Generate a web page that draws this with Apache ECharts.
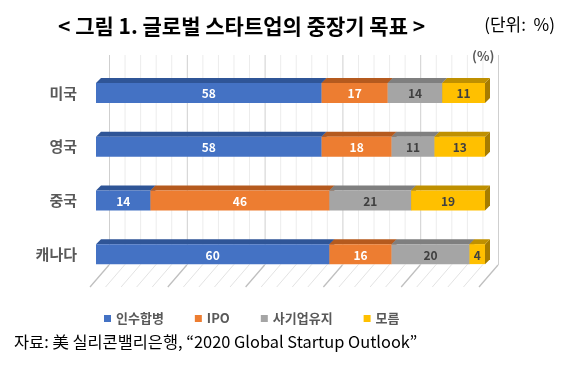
<!DOCTYPE html>
<html><head><meta charset="utf-8">
<script src="https://cdn.jsdelivr.net/npm/echarts@6/dist/echarts.min.js"></script>
<style>html,body{margin:0;padding:0;background:#fff}#c{width:582px;height:372px}</style>
</head><body><div id="c"></div>
<script>
const categories = ['미국', '영국', '중국', '캐나다'];
const seriesNames = ['인수합병', 'IPO', '사기업유지', '모름'];
const mna = [58, 58, 14, 60];
const ipo = [17, 18, 46, 16];
const privateKeep = [14, 11, 21, 20];
const unknown = [11, 13, 19, 4];
const wallTicks = [0,4,8,12,16,20,24,28,32,36,40,44,48,52,56,60,64,68,72,76,80,84,88,92,96,100];

const valueSets = [mna, ipo, privateKeep, unknown];
const fronts = ['#4472C4', '#ED7D31', '#A5A5A5', '#FFC000'];
const tops = ['#2F5597', '#B55A1E', '#7F7F7F', '#BF9000'];
const sides = ['#2F5597', '#A14F1A', '#747474', '#A67C00'];
const labelColors = ['#FFFFFF', '#FFFFFF', '#404040', '#404040'];
const KR = '"Noto Sans CJK KR", "Noto Sans", sans-serif';

const cum = categories.map(() => 0);
const barSeries = valueSets.map((vals, si) => {
  const data = vals.map((v, ci) => {
    const s = cum[ci]; cum[ci] += v;
    return [s, s + v, ci, v];
  });
  return {
    type: 'custom', name: seriesNames[si],
    itemStyle: { color: fronts[si] },
    encode: { x: [0, 1], y: 2 },
    data: data, z: 10,
    renderItem: function (params, api) {
      const s = api.value(0), e = api.value(1), c = api.value(2), v = api.value(3);
      const p0 = api.coord([s, c]), p1 = api.coord([e, c]);
      const h = 20, d = 5;
      const x0 = p0[0], x1 = p1[0], yc = p0[1];
      const yt = yc - h / 2, yb = yc + h / 2;
      return { type: 'group', children: [
        { type: 'polygon', shape: { points: [[x1, yt], [x1 + d, yt - d], [x1 + d, yb - d], [x1, yb]] }, style: { fill: sides[si] } },
        { type: 'polygon', shape: { points: [[x0, yt], [x0 + d, yt - d], [x1 + d, yt - d], [x1, yt]] }, style: { fill: tops[si] } },
        { type: 'rect', shape: { x: x0, y: yt, width: x1 - x0, height: h }, style: { fill: fronts[si] } },
        { type: 'text', style: { text: String(v), x: (x0 + x1) / 2, y: yc + 1, align: 'center', verticalAlign: 'middle', fill: labelColors[si], font: 'bold 12px ' + KR } }
      ]};
    }
  };
});

// back wall + floor grid, positioned from the value axis of the bar grid
const wallSeries = {
  type: 'custom', silent: true, z: 1,
  encode: { x: 0, y: 1 },
  data: wallTicks.map(t => [t, 0]),
  renderItem: function (params, api) {
    const t = api.value(0);
    const cs = params.coordSys;
    const x = api.coord([t, 0])[0];
    const dx = 13, fdx = 6;
    const wallTop = cs.y - 11, wallBottom = cs.y + cs.height - 16, floorFront = cs.y + cs.height + 6;
    const major = (t % 20 === 0);
    return { type: 'group', children: [
      { type: 'line', shape: { x1: x + dx + 0.5, y1: wallTop, x2: x + dx + 0.5, y2: wallBottom },
        style: { stroke: major ? '#CFCFCF' : '#ECECEC', lineWidth: 1 } },
      { type: 'line', shape: { x1: x + dx, y1: wallBottom, x2: x - fdx, y2: floorFront },
        style: { stroke: major ? '#BFBFBF' : '#E3E3E3', lineWidth: major ? 1.3 : 1 } }
    ]};
  }
};

const chart = echarts.init(document.getElementById('c'), null, { renderer: 'canvas' });
chart.setOption({
  backgroundColor: '#ffffff',
  animation: false,
  title: [
    { text: '< 그림 1. 글로벌 스타트업의 중장기 목표 >', left: 58, top: 16, padding: 0, textStyle: { fontFamily: KR, fontWeight: 'bold', fontSize: 21, color: '#000' } },
    { text: '(단위:  %)', right: 27, top: 16, padding: 0, textStyle: { fontFamily: KR, fontWeight: 'normal', fontSize: 17, color: '#000' } },
    { text: '(%)', left: 472, top: 50, padding: 0, textStyle: { fontFamily: KR, fontWeight: 'bold', fontSize: 13, color: '#595959' } },
    { text: '자료: 美 실리콘밸리은행, “2020 Global Startup Outlook”', left: 14, top: 334, padding: 0, textStyle: { fontFamily: KR, fontWeight: 'normal', fontSize: 16.4, color: '#000' } }
  ],
  legend: {
    data: seriesNames, left: 99, top: 307, itemWidth: 7, itemHeight: 7, itemGap: 31, icon: 'rect',
    textStyle: { fontFamily: KR, fontWeight: 'bold', fontSize: 13, color: '#595959' }
  },
  grid: { left: 96, right: 97, top: 66, bottom: 91 },
  xAxis: { type: 'value', min: 0, max: 100, show: false },
  yAxis: { type: 'category', data: categories, inverse: true,
      axisLine: { show: false }, axisTick: { show: false }, splitLine: { show: false },
      axisLabel: { margin: 19, fontFamily: KR, fontWeight: 'bold', fontSize: 15, color: '#595959' } },
  series: [wallSeries].concat(barSeries)
});
</script></body></html>
